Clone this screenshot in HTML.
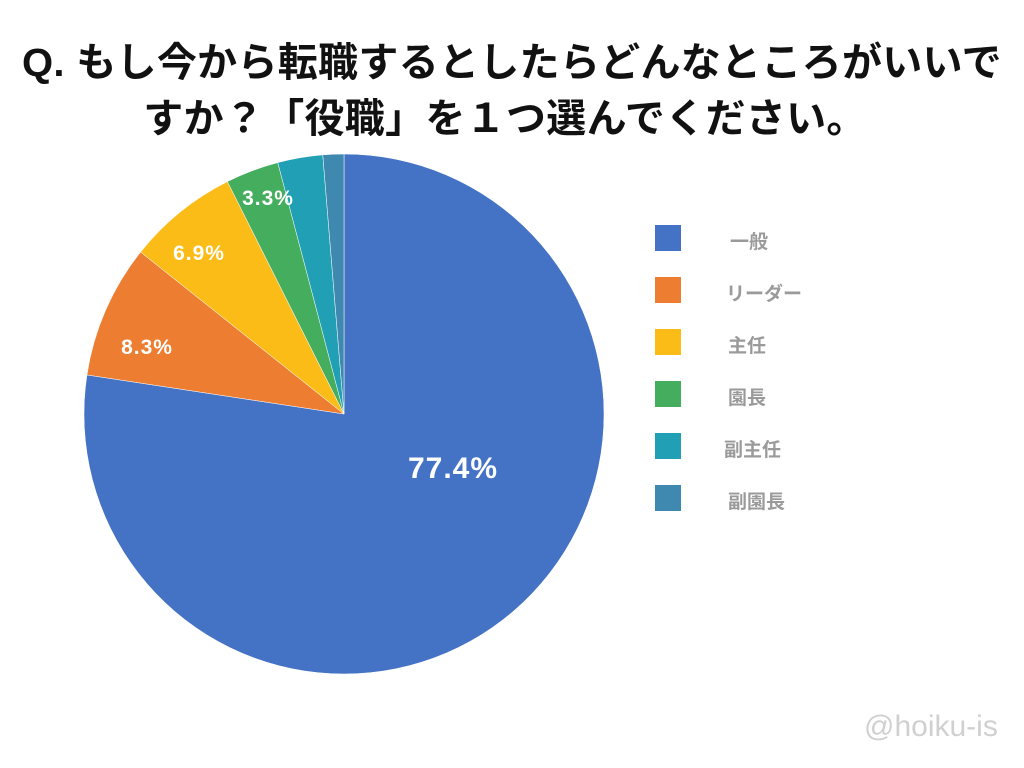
<!DOCTYPE html>
<html><head><meta charset="utf-8">
<style>
html,body{margin:0;padding:0;background:#fff;}
body{width:1024px;height:768px;overflow:hidden;position:relative;font-family:"Liberation Sans","Noto Sans CJK JP",sans-serif;}
.t{position:absolute;left:0;width:1024px;text-align:center;font-weight:bold;font-size:40px;color:#111;white-space:nowrap;letter-spacing:0.3px;}
.lg{position:absolute;left:655px;width:26px;height:26px;}
.lt{position:absolute;left:726px;font-size:19px;font-weight:bold;color:#9a9a9a;}
</style></head><body>
<div class="t" style="top:30px;">Q. もし今から転職するとしたらどんなところがいいで</div>
<div class="t" style="top:86px;left:-7px;">すか？「役職」を１つ選んでください。</div>
<svg id="s" width="1024" height="768" style="position:absolute;left:0;top:0">
</svg>
<div class="lg" style="top:225px;background:#4472c4"></div><div class="lt" style="top:227px;left:730px">一般</div>
<div class="lg" style="top:277px;background:#ed7d31"></div><div class="lt" style="top:279px">リーダー</div>
<div class="lg" style="top:329px;background:#fbbc18"></div><div class="lt" style="top:331px;left:728px">主任</div>
<div class="lg" style="top:381px;background:#45ad5e"></div><div class="lt" style="top:383px;left:728px">園長</div>
<div class="lg" style="top:433px;background:#21a0b5"></div><div class="lt" style="top:435px;left:724px">副主任</div>
<div class="lg" style="top:485px;background:#3f89b0"></div><div class="lt" style="top:487px;left:728px">副園長</div>
<div style="position:absolute;left:864px;top:710px;font-size:30px;color:#d0d0d0;">@hoiku-is</div>
<script>
var d=[[77.4,"#4472c4"],[8.3,"#ed7d31"],[6.9,"#fbbc18"],[3.3,"#45ad5e"],[2.8,"#21a0b5"],[1.3,"#3f89b0"]];
var cx=344,cy=414,r=260,a=0,h="";
d.forEach(function(e){var a2=a+e[0]/100*2*Math.PI;
var x1=cx+r*Math.sin(a),y1=cy-r*Math.cos(a),x2=cx+r*Math.sin(a2),y2=cy-r*Math.cos(a2);
h+='<path d="M'+cx+' '+cy+' L'+x1+' '+y1+' A'+r+' '+r+' 0 '+((a2-a)>Math.PI?1:0)+' 1 '+x2+' '+y2+' Z" fill="'+e[1]+'" stroke="#fff" stroke-width="0.5"/>';a=a2;});
h+='<g font-family="Liberation Sans,sans-serif" font-weight="bold" fill="#fff" text-anchor="middle">';
h+='<text x="453" y="478" font-size="30" letter-spacing="1">77.4%</text>';
h+='<text x="147" y="354" font-size="21" letter-spacing="1">8.3%</text>';
h+='<text x="199" y="260" font-size="21" letter-spacing="1">6.9%</text>';
h+='<text x="268" y="205" font-size="21" letter-spacing="1">3.3%</text></g>';
document.getElementById("s").innerHTML=h;
</script>
</body></html>
